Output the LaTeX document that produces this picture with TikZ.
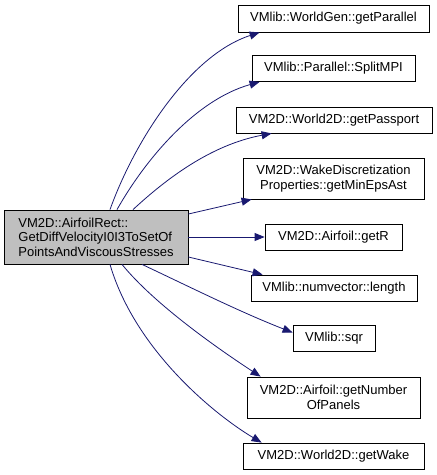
\documentclass[tikz,border=0pt]{standalone}
\usepackage{fontspec}
\setmainfont{Liberation Sans}
\usetikzlibrary{arrows.meta}
\definecolor{edgeblue}{HTML}{191970}
\definecolor{mainfill}{HTML}{BFBFBF}
\begin{document}
\begin{tikzpicture}[x=1pt,y=-1pt,
  box/.style={draw=black,line width=0.8pt,fill=white,inner sep=0pt,align=center,
    font=\fontsize{13}{14.5}\selectfont},
  mainbox/.style={box,fill=mainfill,align=left},
  edge/.style={draw=edgeblue,line width=0.8pt,-{Triangle[length=10pt,width=8pt]}}]
\useasboundingbox (0,0) rectangle (437,475);
% nodes
\node[mainbox,minimum width=184pt,minimum height=54pt] (main) at (96,237)
  {VM2D::AirfoilRect::\\GetDiffVelocityI0I3ToSetOf\\PointsAndViscousStresses};
\node[box,minimum width=191pt,minimum height=27pt] (b1) at (333.5,18.5) {VMlib::WorldGen::getParallel};
\node[box,minimum width=163pt,minimum height=26pt] (b2) at (333.5,68.5) {VMlib::Parallel::SplitMPI};
\node[box,minimum width=196pt,minimum height=26pt] (b3) at (334,120) {VM2D::World2D::getPassport};
\node[box,minimum width=181pt,minimum height=41pt] (b4) at (333.5,178.5) {VM2D::WakeDiscretization\\Properties::getMinEpsAst};
\node[box,minimum width=137pt,minimum height=26pt] (b5) at (333.5,237) {VM2D::Airfoil::getR};
\node[box,minimum width=166pt,minimum height=26pt] (b6) at (334,288) {VMlib::numvector::length};
\node[box,minimum width=82pt,minimum height=26pt] (b7) at (334,338.5) {VMlib::sqr};
\node[box,minimum width=173pt,minimum height=41pt] (b8) at (333.5,397.5) {VM2D::Airfoil::getNumber\\OfPanels};
\node[box,minimum width=181pt,minimum height=26pt] (b9) at (333.5,456) {VM2D::World2D::getWake};
% edges
\draw[edge] ([xshift=14pt]main.north) .. controls (135,140) and (190,55) .. ([xshift=22pt]b1.south west);
\draw[edge] ([xshift=21pt]main.north) .. controls (145,160) and (195,100) .. ([xshift=8pt]b2.south west);
\draw[edge] ([xshift=37pt]main.north) .. controls (165,180) and (210,145) .. ([xshift=36pt]b3.south west);
\draw[edge] ([yshift=23pt]main.east) -- ([xshift=9pt]b4.south west);
\draw[edge] (main.east) -- (b5.west);
\draw[edge] ([yshift=-20pt]main.east) -- ([xshift=12pt]b6.north west);
\draw[edge] ([xshift=46pt]main.south) .. controls (190,287) and (240,312) .. ([yshift=6pt]b7.west);
\draw[edge] ([xshift=26pt]main.south) .. controls (155,305) and (220,350) .. ([xshift=14pt]b8.north west);
\draw[edge] ([xshift=14pt]main.south) .. controls (135,350) and (215,415) .. ([xshift=19pt]b9.north west);
\end{tikzpicture}
\end{document}
